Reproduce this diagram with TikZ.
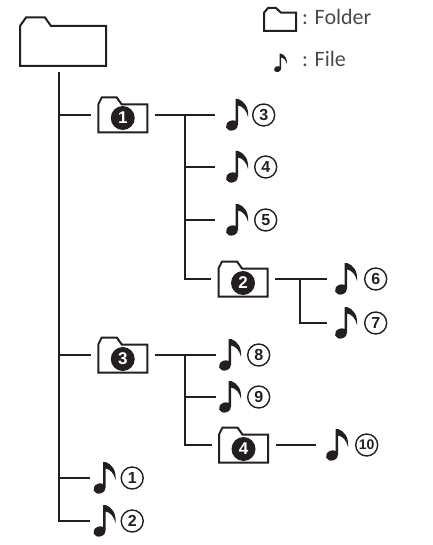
\documentclass[tikz,border=0pt]{standalone}
\usepackage{fontspec}
\usepackage{xcolor}
\setmainfont{Liberation Sans}
\newfontfamily\keyfont{Carlito}
\usetikzlibrary{positioning}
\definecolor{Ink}{HTML}{231F20}
\definecolor{KeyGray}{HTML}{4A4A4A}

\begin{document}
\begin{tikzpicture}[x=1pt,y=-1pt,
    link/.style={draw=Ink,line width=2pt},
    folderline/.style={draw=Ink,line width=2pt},
    foldernode/.style={inner sep=0pt,minimum width=49pt,minimum height=35pt,outer xsep=7.5pt,outer ysep=0pt},
    filenote/.style={inner sep=0pt,minimum width=22pt,minimum height=32pt,outer xsep=3.5pt,outer ysep=0pt},
    badge/.style={circle,fill=Ink,text=white,inner sep=0pt,minimum size=24pt,font=\fontsize{17}{17}\selectfont\bfseries},
    numring/.style={circle,draw=Ink,line width=1.4pt,text=Ink,inner sep=0pt,minimum size=22pt,font=\fontsize{16}{16}\selectfont\bfseries},
    numsmall/.style={numring,font=\fontsize{14}{14}\selectfont\bfseries},
    keytext/.style={anchor=base west,inner sep=0pt,text=KeyGray,font=\fontsize{22}{22}\selectfont\keyfont}]
  \useasboundingbox (0,0) rectangle (432,545);
  % folders
  \node[foldernode,minimum width=86pt,minimum height=48.5pt] (root) at (63,41.75) {};
  \node[foldernode] (fd1) at (122.75,115) {};
  \node[foldernode] (fd2) at (243,279) {};
  \node[foldernode] (fd3) at (122.75,355) {};
  \node[foldernode] (fd4) at (243.5,445) {};
  \node[foldernode,minimum width=32pt,minimum height=23pt] (keyfd) at (280,19.5) {};
  \node[badge] (b1) at ([yshift=-3pt]fd1.center) {1};
  \node[badge] (b2) at ([yshift=-4pt]fd2.center) {2};
  \node[badge] (b3) at ([yshift=-4pt]fd3.center) {3};
  \node[badge] (b4) at ([yshift=-4pt]fd4.center) {4};
  % files
  \node[filenote,outer xsep=11pt] (f3) at (237,115) {};
  \node[filenote,outer xsep=11pt] (f4) at (237,167) {};
  \node[filenote,outer xsep=11pt] (f5) at (237,220) {};
  \node[filenote,outer xsep=8pt] (f6) at (346,279) {};
  \node[filenote,outer xsep=8pt] (f7) at (346,323) {};
  \node[filenote] (f8) at (230,355) {};
  \node[filenote] (f9) at (230,397) {};
  \node[filenote,outer xsep=10pt] (f10) at (337,445) {};
  \node[filenote] (f1) at (104.5,478) {};
  \node[filenote] (f2) at (104.5,521) {};
  \node[filenote,minimum width=13pt,minimum height=18pt] (keyf) at (280.5,63) {};
  % numbers
  \node[numring,right=15pt of f3.center] (n3) {3};
  \node[numring,right=17pt of f4.center] (n4) {4};
  \node[numring,right=17pt of f5.center] (n5) {5};
  \node[numring,right=18pt of f6.center] (n6) {6};
  \node[numring,right=18pt of f7.center] (n7) {7};
  \node[numring,right=17pt of f8.center] (n8) {8};
  \node[numring,right=17pt of f9.center] (n9) {9};
  \node[numsmall,right=18pt of f10.center] (n10) {10};
  \node[numring,right=16pt of f1.center] (n1) {1};
  \node[numring,right=16pt of f2.center] (n2) {2};
  % key
  \node[keytext] (tfolder) at (302,25) {: Folder};
  \node[keytext] (tfile) at (302,67) {: File};
  % outlines
  \foreach \n/\w/\h/\d/\a/\b/\c in {root/86/48.5/8.5/6/25/31,fd1/49/35/7/3.5/18.5/23.5,
      fd2/49/35/7/3.5/18.5/23.5,fd3/49/35/7/3.5/18.5/23.5,fd4/49/35/7/3.5/18.5/23.5,keyfd/32/23/4.7/4/12/17}
    \draw[folderline,shift={(\n.center)}] (-\w/2,\h/2) -- (-\w/2,-\h/2+\d) -- (-\w/2+\a,-\h/2)
      -- (-\w/2+\b,-\h/2) -- (-\w/2+\c,-\h/2+\d) -- (\w/2,-\h/2+\d) -- (\w/2,\h/2) -- cycle;
  \foreach \n/\s in {f1/1,f2/1,f3/1,f4/1,f5/1,f6/1,f7/1,f8/1,f9/1,f10/1,keyf/0.58}
    \fill[Ink,shift={(\n.center)},scale=\s] (-1.4,10) -- (-1.4,-16) -- (1.1,-16)
      .. controls (7,-14) and (12,-8) .. (11,2) .. controls (10,-4) and (5.5,-9) .. (1.1,-9.5)
      -- (1.1,10) -- cycle (-5,10.5) [rotate around={20:(-5,10.5)}] ellipse [x radius=6.2,y radius=5];
  % connectors
  \coordinate (trunk) at (59,72);
  \coordinate (stemA) at (185,115);
  \coordinate (stemB) at (300,279);
  \coordinate (stemC) at (185,355);
  \draw[link] (trunk) |- (f2);
  \draw[link] (trunk |- fd1) -- (fd1);
  \draw[link] (trunk |- fd3) -- (fd3);
  \draw[link] (trunk |- f1) -- (f1);
  \draw[link] (fd1) -- (f3);
  \draw[link] (stemA) |- (fd2);
  \draw[link] (stemA |- f4) -- (f4);
  \draw[link] (stemA |- f5) -- (f5);
  \draw[link] (fd2) -- (f6);
  \draw[link] (stemB) |- (f7);
  \draw[link] (fd3) -- (f8);
  \draw[link] (stemC) |- (fd4);
  \draw[link] (stemC |- f9) -- (f9);
  \draw[link] (fd4) -- (f10);
\end{tikzpicture}
\end{document}
